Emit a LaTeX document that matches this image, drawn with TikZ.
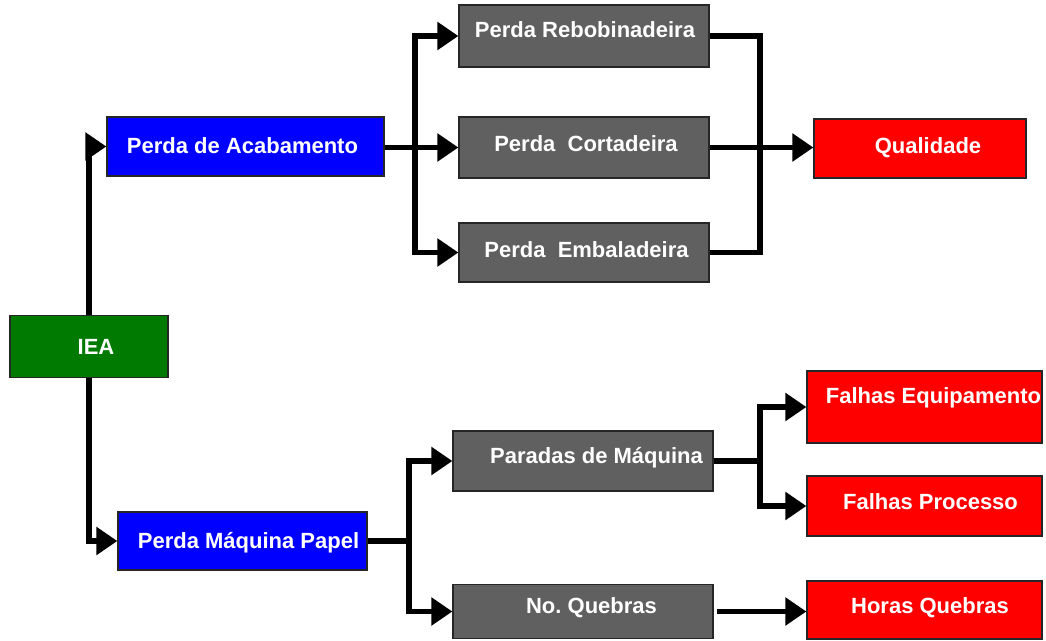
\documentclass[tikz,border=0pt]{standalone}
\usepackage{fontspec}
\setmainfont{Liberation Sans}
\usetikzlibrary{arrows.meta}
\definecolor{boxgreen}{HTML}{007A00}
\definecolor{boxblue}{HTML}{0000FF}
\definecolor{boxgray}{HTML}{606060}
\definecolor{boxred}{HTML}{FF0000}
\frenchspacing
\begin{document}
\begin{tikzpicture}[x=1pt,y=-1pt,
  box/.style={draw=black!85, line width=1.2pt, inner sep=0pt, rectangle},
  lbl/.style={text=white, font=\fontsize{22}{26}\selectfont\bfseries, inner sep=0pt, anchor=base},
  conn/.style={line width=5.5pt, draw=black},
  arr/.style={conn, -{Triangle[length=21pt,width=27pt]}}]
\useasboundingbox (0,0) rectangle (1046,640);

% boxes
\node[box, fill=boxgreen, minimum width=158, minimum height=62] (iea) at (89,346.5) {};
\node[box, fill=boxblue, minimum width=277, minimum height=59] (acab) at (245.5,146.5) {};
\node[box, fill=boxblue, minimum width=249, minimum height=58] (pmp) at (242.5,541) {};
\node[box, fill=boxgray, minimum width=250, minimum height=62] (reb) at (584,36) {};
\node[box, fill=boxgray, minimum width=250, minimum height=61] (cort) at (584,147.5) {};
\node[box, fill=boxgray, minimum width=250, minimum height=59] (emb) at (584,252.5) {};
\node[box, fill=boxred, minimum width=212, minimum height=59] (qual) at (920,148.5) {};
\node[box, fill=boxgray, minimum width=260, minimum height=60] (par) at (583,461) {};
\node[box, fill=boxgray, minimum width=260, minimum height=54] (nq) at (583,611.5) {};
\node[box, fill=boxred, minimum width=235, minimum height=72] (feq) at (924.5,407) {};
\node[box, fill=boxred, minimum width=235, minimum height=60] (fpr) at (924.5,506) {};
\node[box, fill=boxred, minimum width=235, minimum height=58] (hq) at (924.5,610) {};

% labels
\node[lbl] (iea-t) at (96,354) {IEA};
\node[lbl] (acab-t) at (242.5,153) {Perda de Acabamento};
\node[lbl] (pmp-t) at (248.5,548) {Perda Máquina Papel};
\node[lbl] (reb-t) at (585,37) {Perda Rebobinadeira};
\node[lbl] (cort-t) at (586,151) {Perda\ \ Cortadeira};
\node[lbl] (emb-t) at (586.5,257) {Perda\ \ Embaladeira};
\node[lbl] (qual-t) at (928,153) {Qualidade};
\node[lbl] (par-t) at (596.5,463) {Paradas de Máquina};
\node[lbl] (nq-t) at (591.5,613) {No. Quebras};
\node[lbl] (feq-t) at (933.5,403) {Falhas Equipamento};
\node[lbl] (fpr-t) at (930.5,509) {Falhas Processo};
\node[lbl] (hq-t) at (930,613) {Horas Quebras};

% branch points
\coordinate (b1) at (415,147.5);
\coordinate (m1) at (760,147.5);
\coordinate (b2) at (409,541);
\coordinate (b3) at (760,461);

% IEA to the two main losses
\draw[arr] (iea.north) |- (acab.west);
\draw[arr] (iea.south) |- (pmp.west);

% finishing losses
\draw[arr] (acab.east |- cort.west) -- (cort.west);
\draw[arr] (b1) |- (reb.west);
\draw[arr] (b1) |- (emb.west);
\draw[conn] (reb.east) -| (m1) |- (emb.east);
\draw[arr] (cort.east) -- (cort.east -| qual.west);

% paper machine losses
\draw[conn] (pmp.east) -- (b2);
\draw[arr] (b2) |- (par.west);
\draw[arr] (b2) |- (nq.west);
\draw[conn] (par.east) -- (b3);
\draw[arr] (b3) |- (feq.west);
\draw[arr] (b3) |- (fpr.west);
\draw[arr, shorten <=3pt] (nq.east) -- (nq.east -| hq.west);
\end{tikzpicture}
\end{document}
